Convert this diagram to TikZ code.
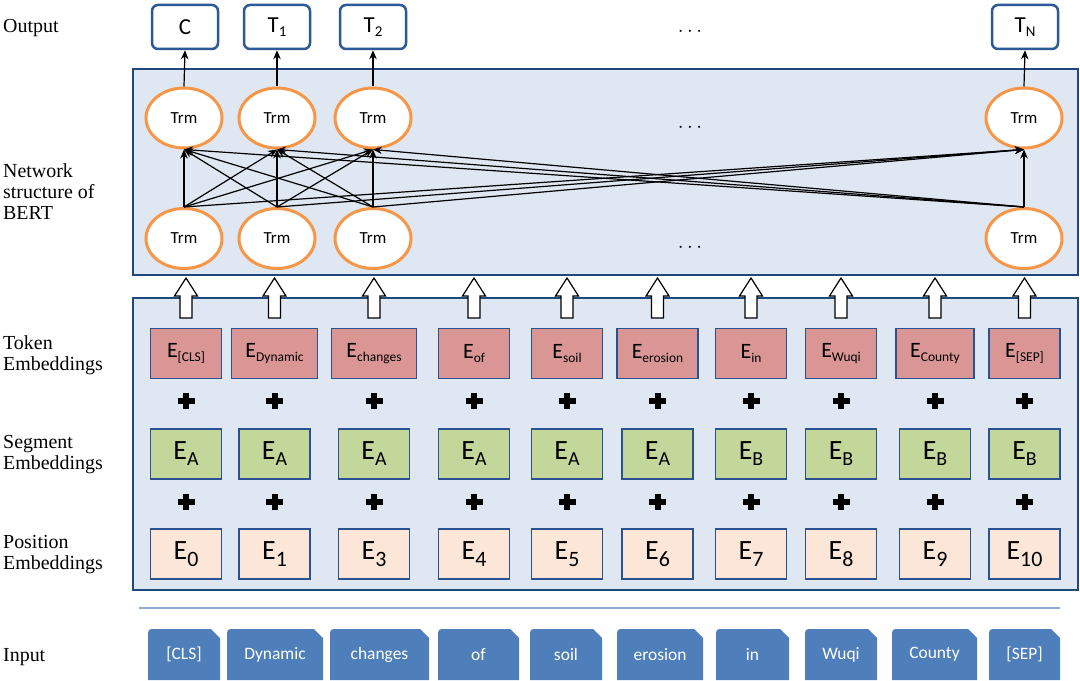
\documentclass[tikz,border=0pt]{standalone}
\usepackage{fontspec}
\setmainfont{Liberation Serif}
\newfontfamily\carl{Carlito}
\usetikzlibrary{arrows.meta,shapes.geometric}
\definecolor{outblue}{RGB}{46,89,152}
\definecolor{boxblue}{RGB}{31,73,125}
\definecolor{boxfill}{RGB}{223,231,242}
\definecolor{embblue}{RGB}{42,82,144}
\definecolor{tokfill}{RGB}{217,150,148}
\definecolor{segfill}{RGB}{196,215,155}
\definecolor{posfill}{RGB}{252,230,216}
\definecolor{inpfill}{RGB}{79,127,186}
\definecolor{trmorange}{RGB}{247,150,70}
\definecolor{sepline}{RGB}{143,168,204}
\newcommand\Esub[4]{{\fontsize{#1}{#1}\selectfont E}\raisebox{#4}{\fontsize{#2}{#2}\selectfont #3}}
\newcommand\Tsub[1]{T\raisebox{-4.5bp}{\fontsize{15}{15}\selectfont #1}}
\begin{document}
\begin{tikzpicture}[x=1bp,y=-1bp,
  lbl/.style={anchor=west, align=left, inner sep=0, font=\fontsize{20}{21}\selectfont},
  bigbox/.style={draw=boxblue, line width=2.5bp, fill=boxfill, inner sep=0},
  outbox/.style={draw=outblue, line width=2.5bp, rounded corners=6bp, fill=white,
    minimum width=66bp, minimum height=44bp, inner sep=0, font=\carl\fontsize{23}{26}\selectfont},
  trm/.style={ellipse, draw=trmorange, line width=3bp, fill=white, minimum width=76bp,
    minimum height=60bp, inner sep=0, font=\carl\fontsize{17}{19}\selectfont},
  conn/.style={-{Stealth[length=9bp,width=7.5bp]}, line width=1.2bp},
  dotsnode/.style={font=\fontsize{20}{24}\selectfont, inner sep=0},
  embbox/.style={draw=embblue, line width=1.5bp, minimum height=50bp, inner sep=0, font=\carl},
  tokbox/.style={embbox, fill=tokfill},
  segbox/.style={embbox, fill=segfill, minimum width=71bp},
  posbox/.style={embbox, fill=posfill, minimum width=71bp},
  plussign/.style={line width=6bp},
  inp/.style={minimum height=51bp, inner sep=0, text=white, font=\carl\fontsize{17.5}{19}\selectfont,
    path picture={\fill[inpfill] (path picture bounding box.south west)
      -- ([yshift=-8bp]path picture bounding box.north west)
      .. controls (path picture bounding box.north west) .. ([xshift=8bp]path picture bounding box.north west)
      -- ([xshift=-9bp]path picture bounding box.north east)
      -- ([yshift=-9bp]path picture bounding box.north east)
      -- (path picture bounding box.south east) -- cycle;}},
  pics/blockarrow/.style={code={\draw[fill=white, line width=1.2bp]
      (0,0) -- (11.5,18) -- (6,18) -- (6,40) -- (-6,40) -- (-6,18) -- (-11.5,18) -- cycle;}}
]
\useasboundingbox (0,0) rectangle (1080,681);

% left labels
\node[lbl] (lout) at (3,28) {Output};
\node[lbl] (lnet) at (3,192) {Network\\structure of\\BERT};
\node[lbl] (ltok) at (3,355) {Token\\Embeddings};
\node[lbl] (lseg) at (3,455) {Segment\\Embeddings};
\node[lbl] (lpos) at (3,555) {Position\\Embeddings};
\node[lbl] (linp) at (3,657) {Input};

% big boxes
\node[bigbox, minimum width=945bp, minimum height=206bp] (net) at (605.5,172) {};
\node[bigbox, minimum width=945bp, minimum height=292bp] (emb) at (605.5,444) {};

% outputs
\node[outbox] (o1) at (185,27) {C};
\node[outbox] (o2) at (277,27) {\Tsub{1}};
\node[outbox] (o3) at (373,27) {\Tsub{2}};
\node[outbox] (o4) at (1025,27) {\Tsub{N}};
\node[dotsnode] (odots) at (690,32) {$\cdots$};

% transformer layers
\foreach \i/\x in {1/184,2/277,3/373,4/1024}{
  \node[trm] (t\i) at (\x,118) {Trm};
  \node[trm] (b\i) at (\x,238.5) {Trm};
}
\node[dotsnode] (tdots) at (690,128) {$\cdots$};
\node[dotsnode] (bdots) at (690,248) {$\cdots$};

\foreach \i in {1,...,4}{
  \foreach \j in {1,...,4}{
    \draw[conn] (b\i.north) -- (t\j.south);
  }
  \draw[conn] (t\i.north) -- (o\i.south);
}

% embeddings
\foreach \k/\x/\tw/\tk/\sg/\ps in {
  1/186/71/{[CLS]}/A/0,
  2/274.5/86/{Dynamic}/A/1,
  3/374/85/{changes}/A/3,
  4/474/71/{of}/A/4,
  5/567/71/{soil}/A/5,
  6/657.5/81/{erosion}/A/6,
  7/751/71/{in}/B/7,
  8/841/71/{Wuqi}/B/8,
  9/935/78/{County}/B/9,
  10/1024.5/71/{[SEP]}/B/10}{
  \node[tokbox, minimum width=\tw bp] (tok\k) at (\x,353.5) {\Esub{22}{13.5}{\tk}{-4.5bp}};
  \node[segbox] (seg\k) at (\x,454) {\Esub{28}{20}{\sg}{-6bp}};
  \node[posbox] (pos\k) at (\x,554) {\Esub{28}{22}{\ps}{-6.5bp}};
  \draw[plussign] (\x-8.5,401) -- (\x+8.5,401) (\x,393) -- (\x,409);
  \draw[plussign] (\x-8.5,502) -- (\x+8.5,502) (\x,494) -- (\x,510);
  \pic at (\x,278) {blockarrow};
}

% separator
\coordinate (sepA) at (139,608);
\coordinate (sepB) at (1060,608);
\draw[sepline, line width=1.5bp] (sepA) -- (sepB);

% inputs
\foreach \k/\x/\w/\tx in {
  1/184/72/{[CLS]},
  2/275/96/{Dynamic},
  3/379.5/99/{changes},
  4/478.5/81/{of},
  5/566/72/{soil},
  6/660/86/{erosion},
  7/752.5/73/{in},
  8/841/72/{Wuqi},
  9/934.5/85/{County},
  10/1024.5/71/{[SEP]}}{
  \node[inp, minimum width=\w bp] (in\k) at (\x,654.5) {\tx};
}
\end{tikzpicture}
\end{document}
